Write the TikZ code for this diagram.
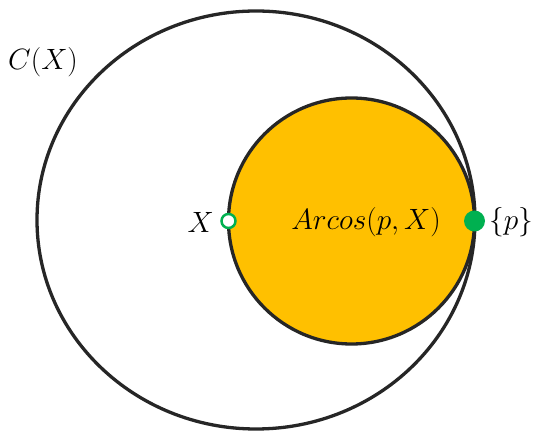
\documentclass[tikz,border=0pt]{standalone}
\usepackage{fontspec}
\setmainfont{Liberation Serif}
\definecolor{gold}{HTML}{FFC000}
\definecolor{grn}{HTML}{00B050}
\newcommand{\biglbl}[1]{\scalebox{1.18}{\fontsize{24.88}{28}\selectfont$#1$}}
\begin{document}
\begin{tikzpicture}[x=1pt,y=1pt,
  lbl/.style={inner sep=0pt},
  ring/.style={draw=black!85,line width=3.3pt}]
\useasboundingbox (0,0) rectangle (539,434);
\draw[ring] (256,214) ellipse [x radius=219, y radius=209];
\draw[ring,fill=gold] (351.5,213) circle [radius=123];
\node[circle,draw=grn,fill=white,line width=2.5pt,minimum size=14pt,inner sep=0pt] (X) at (228.5,213) {};
\node[circle,fill=grn,minimum size=21pt,inner sep=0pt] (p) at (474.5,213) {};
\node[lbl,anchor=east] (xl) at (214,212) {\biglbl{X}};
\node[lbl] (arc) at (366,212) {\biglbl{Arcos(p,X)}};
\node[lbl,anchor=west] (pl) at (489,212) {\biglbl{\{p\}}};
\node[lbl] (cx) at (43,372) {\biglbl{C(X)}};
\end{tikzpicture}
\end{document}
